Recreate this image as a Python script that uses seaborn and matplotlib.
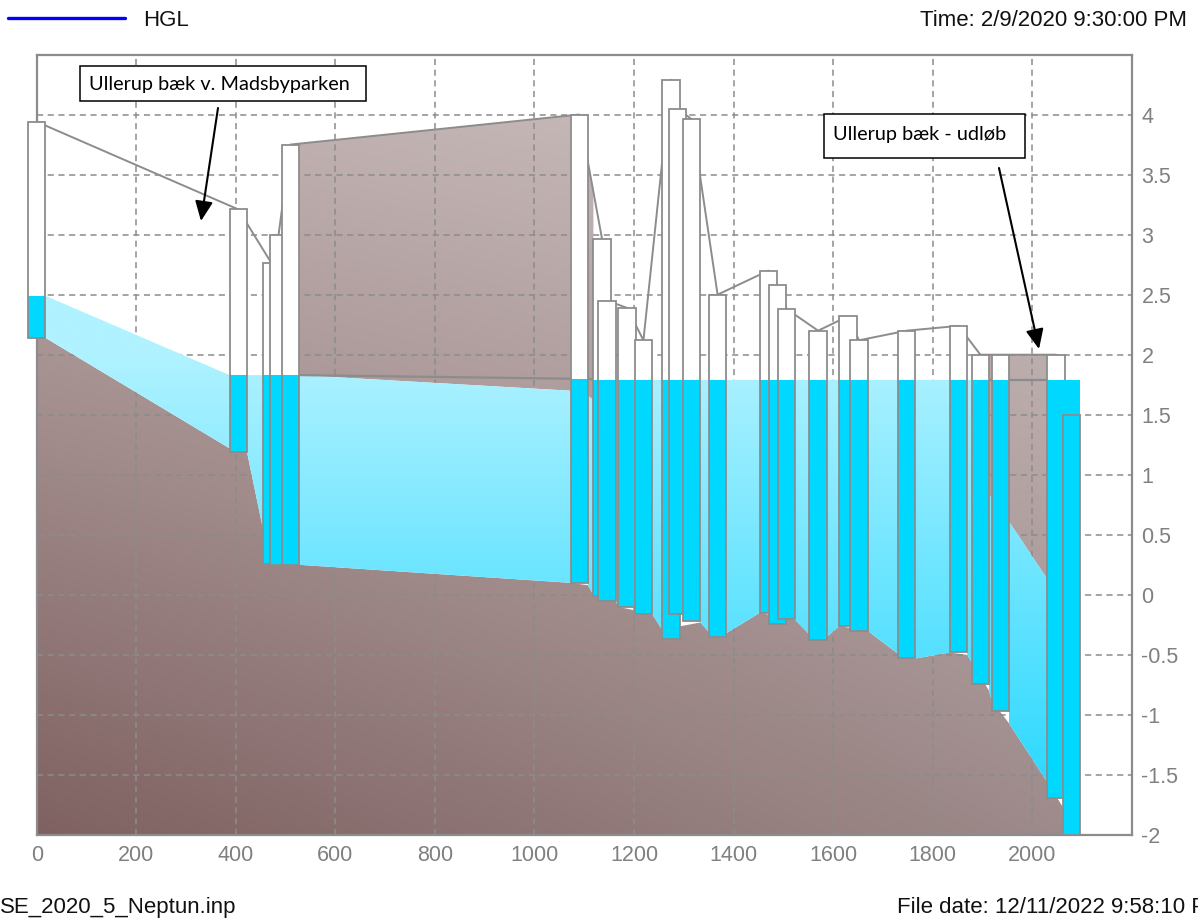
import numpy as np
import matplotlib
matplotlib.use("Agg")
import matplotlib.pyplot as plt
import seaborn as sns
from matplotlib.patches import Rectangle, PathPatch
from matplotlib.path import Path
from matplotlib.lines import Line2D
from matplotlib.colors import to_rgb

# ---- Nodes along the profile (station in m, elevations in m) ----
node_station = [0, 405, 472, 486, 510, 1090, 1136, 1146, 1186, 1219, 1274, 1288, 1316,
                1368, 1470, 1488, 1507, 1570, 1630, 1652, 1748, 1852, 1896, 1936, 2048, 2079]
node_invert = [2.14, 1.19, 0.26, 0.25, 0.25, 0.10, -0.01, -0.05, -0.10, -0.16, -0.37, -0.16, -0.22,
               -0.35, -0.15, -0.24, -0.20, -0.38, -0.26, -0.30, -0.53, -0.48, -0.74, -0.97, -1.69, -2.00]
node_rim = [3.94, 3.21, 2.76, 3.00, 3.75, 4.00, 2.96, 2.45, 2.39, 2.12, 4.29, 4.05, 3.96,
            2.50, 2.70, 2.58, 2.38, 2.20, 2.32, 2.12, 2.20, 2.24, 2.00, 2.00, 2.00, 1.50]
node_hgl = [2.49, 1.83, 1.83, 1.83, 1.83, 1.80, 1.79, 1.79, 1.79, 1.79, 1.79, 1.79, 1.79,
            1.79, 1.79, 1.79, 1.79, 1.79, 1.79, 1.79, 1.79, 1.79, 1.79, 1.79, 1.79, 1.79]
NODE_WIDTH = 35

# ---- Links between consecutive nodes (values at the node faces; nan crown = open section) ----
link_invert_up = [2.14, 1.19, 0.26, 0.25, 0.25, 0.08, -0.02, -0.05, -0.10, -0.16, -0.30, -0.16, -0.23,
                  -0.32, -0.15, -0.22, -0.21, -0.35, -0.26, -0.30, -0.53, -0.50, -0.80, -1.07, -1.75]
link_invert_dn = [1.22, 0.55, 0.25, 0.25, 0.10, 0.00, -0.05, -0.10, -0.16, -0.29, -0.16, -0.22, -0.31,
                  -0.15, -0.20, -0.20, -0.33, -0.26, -0.30, -0.49, -0.48, -0.56, -0.88, -1.56, -1.85]
nan = np.nan
link_crown_up = [nan, nan, nan, nan, 1.83, 1.66, nan, nan, nan, nan, nan, nan, nan,
                 nan, nan, nan, nan, nan, nan, nan, nan, nan, 0.84, 0.61, nan]
link_crown_dn = [nan, nan, nan, nan, 1.70, 1.62, nan, nan, nan, nan, nan, nan, nan,
                 nan, nan, nan, nan, nan, nan, nan, nan, nan, 0.80, 0.13, nan]

x_ticks = [0, 200, 400, 600, 800, 1000, 1200, 1400, 1600, 1800, 2000]
x_tick_labels = ["0", "200", "400", "600", "800", "1000", "1200", "1400", "1600", "1800", "2000"]
y_ticks = [-2, -1.5, -1, -0.5, 0, 0.5, 1, 1.5, 2, 2.5, 3, 3.5, 4]
y_tick_labels = ["-2", "-1.5", "-1", "-0.5", "0", "0.5", "1", "1.5", "2", "2.5", "3", "3.5", "4"]

legend_label = "HGL"
time_label = "Time: 2/9/2020 9:30:00 PM"
file_label = "SE_2020_5_Neptun.inp"
date_label = "File date: 12/11/2022 9:58:10 PM"
callout_upstream = "Ullerup bæk v. Madsbyparken"
callout_outlet = "Ullerup bæk - udløb"

# ---- style ----
sns.set_theme(style="white")
plt.rcParams["font.family"] = ["Liberation Sans", "DejaVu Sans"]

GRAY = "#8c8c8c"
TICK_GRAY = "#808080"
MH_WATER = "#00d8ff"

W, H = 1198, 919
fig = plt.figure(figsize=(W / 100, H / 100), dpi=100)
ax = fig.add_axes([36.7 / W, 1 - 835 / H, 1095 / W, 780.5 / H])
XMIN, XMAX, YMIN, YMAX = 0, 2200, -2.0, 4.5

st = np.asarray(node_station, float)
inv = np.asarray(node_invert, float)
rim = np.asarray(node_rim, float)
hgl = np.asarray(node_hgl, float)
li_up = np.asarray(link_invert_up, float)
li_dn = np.asarray(link_invert_dn, float)
cr_up = np.asarray(link_crown_up, float)
cr_dn = np.asarray(link_crown_dn, float)

left = st - NODE_WIDTH / 2
right = st + NODE_WIDTH / 2
x_up = right[:-1]
x_dn = left[1:]
valid = x_dn > x_up


def ground_at(x):
    return np.interp(x, st, rim)


def compound(polys):
    paths = [Path(np.vstack([p, p[:1]]), closed=True) for p in polys]
    return Path.make_compound_path(*paths)


# ---- gradient images ----
ext = [-50, 2250, YMIN, YMAX]
gx = np.linspace(ext[0], ext[1], 240)
gy = np.linspace(YMIN, YMAX, 240)
GX, GY = np.meshgrid(gx, gy)
fx = np.clip(GX / 2200.0, 0, 1)[..., None]
fy = ((GY - YMIN) / (YMAX - YMIN))[..., None]
bl, br, tl, tr = (np.array(to_rgb(c)) for c in ["#7f6161", "#a08d8d", "#c2b3b3", "#d2c6c6"])
soil_img = (1 - fx) * (1 - fy) * bl + fx * (1 - fy) * br + (1 - fx) * fy * tl + fx * fy * tr

wt = np.clip((2.0 - GY) / 4.0, 0, 1)[..., None]
w_top = np.array([176, 242, 255]) / 255.0
w_bot = np.array([30, 214, 255]) / 255.0
water_img = (1 - wt) * w_top + wt * w_bot


def shade(path, image, z):
    im = ax.imshow(image, extent=ext, origin="lower", aspect="auto",
                   interpolation="bilinear", zorder=z)
    im.set_clip_path(PathPatch(path, transform=ax.transData))
    return im


# ---- soil below the inverts ----
bed_x = [left[0]]
bed_y = [inv[0]]
for k in np.where(valid)[0]:
    bed_x += [x_up[k], x_dn[k]]
    bed_y += [li_up[k], li_dn[k]]
bed_x.append(right[-1])
bed_y.append(inv[-1])
soil_poly = np.column_stack([[bed_x[0]] + bed_x + [bed_x[-1]],
                             [YMIN - 0.1] + bed_y + [YMIN - 0.1]])

# ---- soil above closed conduits (crown to ground) and conduit water ----
soil_polys = [soil_poly]
water_polys = []
hgl_segments = []
for k in np.where(valid)[0]:
    top_up, top_dn = hgl[k], hgl[k + 1]
    if np.isfinite(cr_up[k]):
        g_up, g_dn = ground_at(x_up[k]), ground_at(x_dn[k])
        soil_polys.append(np.array([[x_up[k], cr_up[k]], [x_dn[k], cr_dn[k]],
                                    [x_dn[k], g_dn], [x_up[k], g_up]]))
        hgl_segments.append(([x_up[k], x_dn[k]], [top_up, top_dn]))
        top_up, top_dn = min(top_up, cr_up[k]), min(top_dn, cr_dn[k])
    water_polys.append(np.array([[x_up[k], li_up[k]], [x_dn[k], li_dn[k]],
                                 [x_dn[k], top_dn], [x_up[k], top_up]]))

shade(compound(soil_polys), soil_img, 1.0)
shade(compound(water_polys), water_img, 2.0)

for xs, ys in hgl_segments:
    ax.plot(xs, ys, color=GRAY, lw=1.6, zorder=2.2, solid_capstyle="butt")

# ground surface line through the rims
sns.lineplot(x=node_station, y=node_rim, ax=ax, color=GRAY, lw=1.4,
             estimator=None, sort=False, zorder=2.6)

# ---- manholes ----
for i in range(len(st)):
    z = 3 + i * 0.01
    ax.bar(st[i], rim[i] - inv[i], bottom=inv[i], width=NODE_WIDTH, color="white",
           linewidth=0, zorder=z, clip_on=False)
    ax.bar(st[i], hgl[i] - inv[i], bottom=inv[i], width=NODE_WIDTH, color=MH_WATER,
           linewidth=0, zorder=z + 0.001, clip_on=False)
    ax.bar(st[i], rim[i] - inv[i], bottom=inv[i], width=NODE_WIDTH, fill=False,
           edgecolor=GRAY, linewidth=1.3, zorder=z + 0.002, clip_on=False)

# ---- axes ----
ax.set_xlim(XMIN, XMAX)
ax.set_ylim(YMIN, YMAX)
ax.set_xlabel("")
ax.set_ylabel("")
ax.set_xticks(x_ticks)
ax.set_xticklabels(x_tick_labels)
ax.set_yticks(y_ticks)
ax.set_yticklabels(y_tick_labels)
ax.yaxis.tick_right()
ax.tick_params(axis="x", length=0, pad=7, labelsize=15.5, labelcolor=TICK_GRAY)
ax.tick_params(axis="y", length=0, pad=7, labelsize=15.5, labelcolor=TICK_GRAY,
               left=False, right=False, labelleft=False, labelright=True)
ax.grid(True, color=GRAY, linestyle=(0, (4, 3)), linewidth=1.1)
ax.set_axisbelow("line")
for s in ax.spines.values():
    s.set_visible(True)
    s.set_color(GRAY)
    s.set_linewidth(1.6)

# ---- header / footer ----
fig.add_artist(Line2D([8 / W, 125 / W], [1 - 18 / H] * 2, color="#0000ff", lw=2.4))
fig.text(143 / W, 1 - 26 / H, legend_label, ha="left", va="baseline", fontsize=16, color="#111111")
fig.text(1187 / W, 1 - 26.5 / H, time_label, ha="right", va="baseline", fontsize=16, color="#111111")
fig.text(0 / W, 1 - 913 / H, file_label, ha="left", va="baseline", fontsize=16, color="#111111")
fig.text(897 / W, 1 - 913 / H, date_label, ha="left", va="baseline", fontsize=16, color="#111111")

# ---- callouts ----
callout_font = ["Lato", "DejaVu Sans"]
for (bx0, by0, bx1, by1), (tx, tyb), label in [
        ((80, 66, 366, 101), (89, 90), callout_upstream),
        ((824, 114, 1025, 158), (833, 140), callout_outlet)]:
    fig.add_artist(Rectangle((bx0 / W, 1 - by1 / H), (bx1 - bx0) / W, (by1 - by0) / H,
                             transform=fig.transFigure, facecolor="white",
                             edgecolor="black", linewidth=1.1, zorder=10))
    fig.text(tx / W, 1 - tyb / H, label, ha="left", va="baseline", fontsize=14.3,
             color="black", family=callout_font, zorder=11)

for (sx, sy), (ex, ey) in [((218, 108), (201, 221)), ((999, 168), (1039, 349))]:
    ax.annotate("", xy=(ex / W, 1 - ey / H), xycoords="figure fraction",
                xytext=(sx / W, 1 - sy / H), textcoords="figure fraction",
                arrowprops=dict(arrowstyle="-|>,head_length=0.6,head_width=0.27",
                                color="black", lw=1.5, mutation_scale=20,
                                shrinkA=0, shrinkB=0),
                annotation_clip=False, zorder=12)

fig.savefig("out.png", dpi=100)
